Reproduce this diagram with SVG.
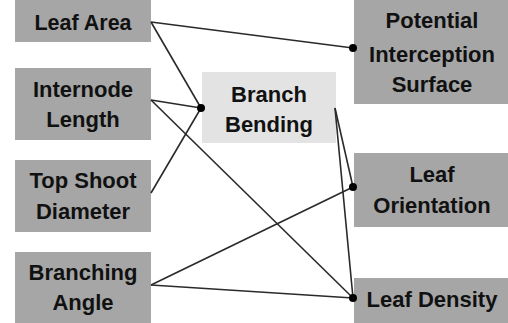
<svg xmlns="http://www.w3.org/2000/svg" width="508" height="323" viewBox="0 0 508 323">
<style>
.box{fill:#a6a6a6}
.light{fill:#e3e3e3}
text{font-family:"Liberation Sans",Arial,sans-serif;font-weight:bold;font-size:22px;fill:#111;text-anchor:middle}
.c{stroke:#2a2a2a;stroke-width:1.6;fill:none}
.dot{fill:#000}
</style>
<rect width="508" height="323" fill="#fff"/>
<g id="leaf-area"><rect class="box" x="15" y="0" width="136" height="42"/><text x="83" y="30" textLength="97" lengthAdjust="spacingAndGlyphs">Leaf Area</text></g>
<g id="internode-length"><rect class="box" x="15" y="68" width="136" height="72"/><text x="83" y="97">Internode</text><text x="83" y="127">Length</text></g>
<g id="top-shoot-diameter"><rect class="box" x="15" y="160" width="136" height="72"/><text x="83" y="188">Top Shoot</text><text x="83" y="219">Diameter</text></g>
<g id="branching-angle"><rect class="box" x="15" y="252" width="136" height="71"/><text x="83" y="280">Branching</text><text x="83" y="310">Angle</text></g>
<g id="branch-bending"><rect class="light" x="202" y="72" width="134" height="71"/><text x="269" y="102">Branch</text><text x="269" y="132">Bending</text></g>
<g id="potential-interception-surface"><rect class="box" x="354" y="0" width="154" height="104"/><text x="432" y="28">Potential</text><text x="432" y="62">Interception</text><text x="432" y="92">Surface</text></g>
<g id="leaf-orientation"><rect class="box" x="354" y="153" width="154" height="74"/><text x="432" y="182">Leaf</text><text x="432" y="213">Orientation</text></g>
<g id="leaf-density"><rect class="box" x="354" y="278" width="154" height="45"/><text x="432" y="307">Leaf Density</text></g>
<g id="connectors">
<path class="c" d="M151 22L353 48"/>
<path class="c" d="M151 22L201 108"/>
<path class="c" d="M151 100L201 108"/>
<path class="c" d="M151 100L353 298"/>
<path class="c" d="M151 193L201 108"/>
<path class="c" d="M151 285L353 187"/>
<path class="c" d="M151 285L353 298"/>
<path class="c" d="M335 108L353 187"/>
<path class="c" d="M335 108L353 298"/>
<circle class="dot" cx="353" cy="48" r="4"/>
<circle class="dot" cx="201" cy="108" r="4"/>
<circle class="dot" cx="353" cy="187" r="4"/>
<circle class="dot" cx="353" cy="298" r="4"/>
</g>
</svg>
